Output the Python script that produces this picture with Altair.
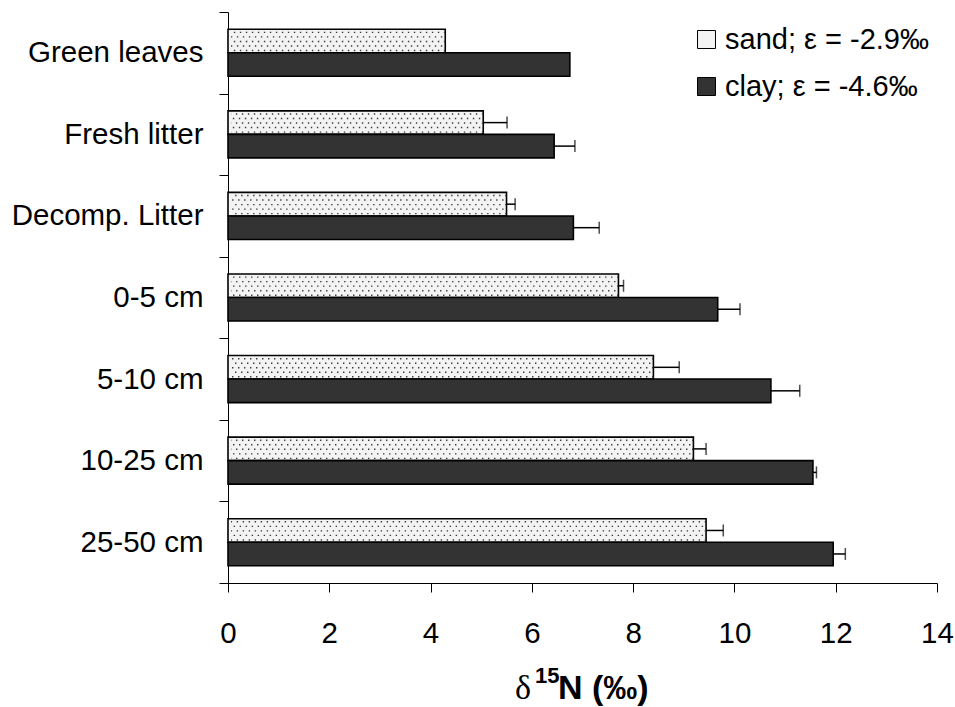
import altair as alt
import pandas as pd

# Soil / litter layers, top to bottom
categories = ["Green leaves", "Fresh litter", "Decomp. Litter",
              "0-5 cm", "5-10 cm", "10-25 cm", "25-50 cm"]
series = ["sand; ε = -2.9‰", "clay; ε = -4.6‰"]

# Mean delta-15N (per mil) and standard errors
sand_mean = [4.29, 5.04, 5.50, 7.71, 8.40, 9.19, 9.44]
sand_err = [None, 0.47, 0.17, 0.10, 0.51, 0.25, 0.34]
clay_mean = [6.75, 6.44, 6.82, 9.67, 10.72, 11.55, 11.95]
clay_err = [None, 0.41, 0.51, 0.44, 0.57, 0.07, 0.24]

x_ticks = [0, 2, 4, 6, 8, 10, 12, 14]

rows = []
for i, cat in enumerate(categories):
    rows.append({"layer": cat, "soil": series[0], "d15N": sand_mean[i], "err": sand_err[i]})
    rows.append({"layer": cat, "soil": series[1], "d15N": clay_mean[i], "err": clay_err[i]})
df = pd.DataFrame(rows)
df_err = df.dropna().copy()
df_err["hi"] = df_err["d15N"] + df_err["err"]

# Stipple texture for the sand bars: dotted lines along each bar, placed on
# a fine sub-grid of each category band (slots 4..8 fall inside the sand bar)
slots = [f"r{k}" for k in range(18)]
stipple_slots = slots[4:9]
stip = pd.DataFrame([
    {"layer": cat, "row": r, "d15N": sand_mean[i], "odd": k % 2}
    for i, cat in enumerate(categories) for k, r in enumerate(stipple_slots)
])

FONT = "Liberation Sans"

y_enc = alt.Y(
    "layer:N", sort=categories,
    scale=alt.Scale(paddingInner=0, paddingOuter=0),
    axis=alt.Axis(title=None, tickBand="extent", labelFontSize=29.5, labelFont=FONT,
                  labelColor="black", labelPadding=16, tickSize=9, tickColor="black",
                  domainColor="black", tickWidth=1, domainWidth=1, labelLimit=0),
)
yoff_enc = alt.YOffset("soil:N", sort=series,
                       scale=alt.Scale(paddingInner=0, paddingOuter=0.735))
x_scale = alt.Scale(domain=[0, 14], nice=False)

bars = alt.Chart(df).mark_bar(stroke="black", strokeWidth=1.6).encode(
    x=alt.X("d15N:Q", scale=x_scale,
            axis=alt.Axis(values=x_ticks, title=None, grid=False, tickSize=9,
                          labelPadding=27, labelFontSize=29.5, labelFont=FONT,
                          labelColor="black", labelFlush=False, tickColor="black",
                          domainColor="black", tickWidth=1, domainWidth=1)),
    y=y_enc,
    yOffset=yoff_enc,
    color=alt.Color(
        "soil:N", sort=series,
        scale=alt.Scale(domain=series, range=["#f3f3f3", "#333333"]),
        legend=alt.Legend(title=None, orient="none", legendX=464, legendY=13,
                          symbolType="square", symbolSize=324, symbolStrokeColor="black",
                          symbolStrokeWidth=1, labelFontSize=29, labelFont=FONT,
                          labelColor="black", rowPadding=17, labelOffset=4, labelLimit=0),
    ),
)

stip_off = alt.YOffset("row:N", scale=alt.Scale(domain=slots, paddingInner=0, paddingOuter=0))


def stipple(odd, dash_offset):
    return alt.Chart(stip).transform_filter(alt.datum.odd == odd).mark_rule(
        color="#3a3a3a", strokeWidth=1.4, strokeDash=[1.4, 4.6], strokeDashOffset=dash_offset
    ).encode(
        x=alt.X("d15N:Q", scale=x_scale), x2=alt.datum(0.06),
        y=y_enc, yOffset=stip_off,
    )


err_rule = alt.Chart(df_err).mark_rule(color="black", strokeWidth=1.5).encode(
    x=alt.X("d15N:Q", scale=x_scale), x2="hi:Q", y=y_enc, yOffset=yoff_enc,
)
err_cap = alt.Chart(df_err).mark_tick(color="black", thickness=1.5, size=12).encode(
    x=alt.X("hi:Q", scale=x_scale), y=y_enc, yOffset=yoff_enc,
)

# Axis title: delta, superscript 15, then "N (‰)"
one = alt.Data(values=[{}])
t_delta = alt.Chart(one).mark_text(font="Liberation Serif", fontSize=34, align="left",
                                   baseline="alphabetic", color="black").encode(
    x=alt.value(287), y=alt.value(687), text=alt.value("δ"))
t_sup = alt.Chart(one).mark_text(font=FONT, fontSize=22, fontWeight="bold", align="left",
                                 baseline="alphabetic", color="black").encode(
    x=alt.value(307), y=alt.value(671), text=alt.value("15"))
t_n = alt.Chart(one).mark_text(font=FONT, fontSize=34, fontWeight="bold", align="left",
                               baseline="alphabetic", color="black").encode(
    x=alt.value(330), y=alt.value(687), text=alt.value("N (‰)"))

chart = alt.layer(
    bars, stipple(0, 0), stipple(1, 3), err_rule, err_cap, t_delta, t_sup, t_n
).resolve_scale(yOffset="independent").properties(
    width=709, height=571,
    autosize=alt.AutoSizeParams(type="none"),
    padding={"left": 228, "top": 12, "right": 18, "bottom": 124},
    background="white",
).configure_view(strokeWidth=0)

chart.save("out.html", embed_options={"renderer": "svg", "actions": False})
